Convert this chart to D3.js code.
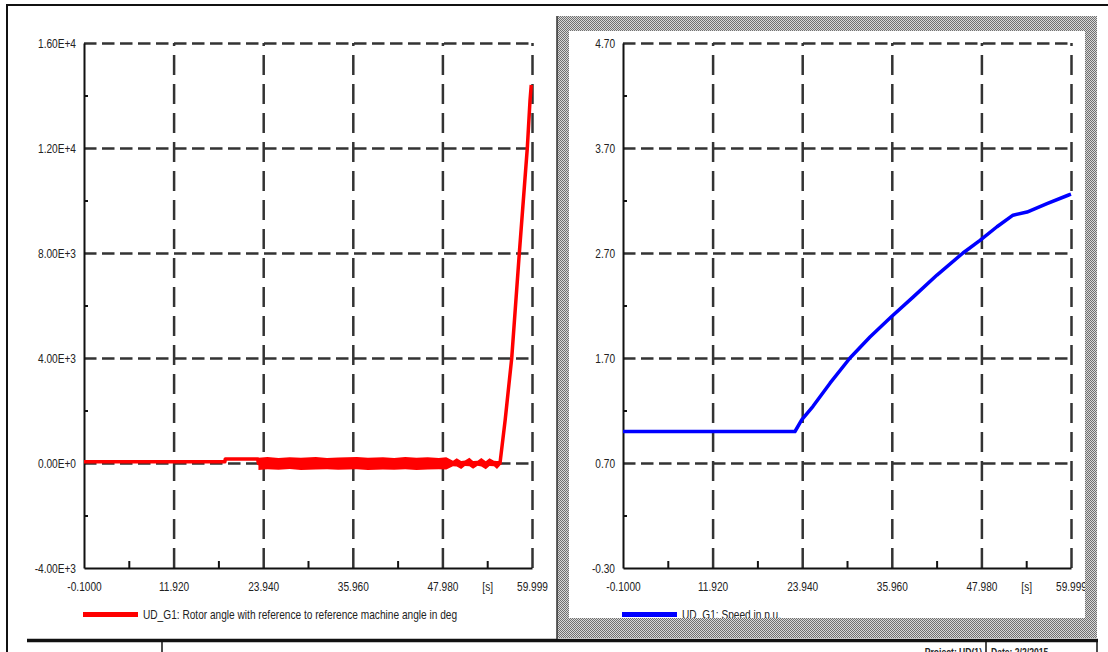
<!DOCTYPE html>
<html>
<head>
<meta charset="utf-8">
<script src="https://cdn.jsdelivr.net/npm/d3@7"></script>
<style>
  body { margin: 0; background: #fff; }
  text { font-family: "Liberation Sans", Arial, sans-serif; fill: #222; }
</style>
</head>
<body>
<script>
// time axis (shared by both plots)
const timeDomain = [-0.1, 59.999];
const xTickValues = [-0.1, 11.92, 23.94, 35.96, 47.98, 53.99, 59.999];
const xTickLabels = ["-0.1000", "11.920", "23.940", "35.960", "47.980", "[s]", "59.999"];
const xGridValues = [11.92, 23.94, 35.96, 47.98, 59.999];
const xMinorValues = [5.91, 17.93, 29.95, 41.97, 53.99];

// rotor angle plot
const angleDomain = [-4000, 16000];
const angleTicks = [-4000, 0, 4000, 8000, 12000, 16000];
const angleTickLabels = ["-4.00E+3", "0.00E+0", "4.00E+3", "8.00E+3", "1.20E+4", "1.60E+4"];
const angleGrid = [0, 4000, 8000, 12000, 16000];
const angleMinor = [-2000, 2000, 6000, 10000, 14000];

const rotorTime = [-0.1, 18.8, 18.85, 23.2, 23.3, 55.7, 56.4, 57.28, 58.3, 59.37, 59.73, 59.9];
const rotorAngle = [50, 50, 150, 150, -20, -20, 1640, 4000, 8000, 12000, 13800, 14400];

// envelope of the fast oscillation between the fault and the pole slip
const bandTime = [23.3, 24.5, 26, 27.5, 29, 31, 32.5, 34, 36.5, 38, 40, 41.5, 43, 44.5, 46, 47.5,
  48.5, 49.4, 49.9, 50.5, 51.0, 51.6, 52.1, 52.7, 53.2, 53.8, 54.3, 54.9, 55.3, 55.7];
const bandUpper = [200, 230, 190, 220, 200, 230, 190, 210, 230, 200, 220, 190, 230, 200, 220, 190,
  220, 90, 180, 80, 100, 200, 80, 90, 190, 70, 180, 90, 80, 80];
const bandLower = [-270, -240, -260, -230, -270, -250, -240, -260, -240, -270, -250, -260, -240, -270, -250, -240,
  -250, -120, -130, -230, -110, -120, -220, -100, -130, -240, -110, -120, -230, -100];

// speed plot
const speedDomain = [-0.3, 4.7];
const speedTicks = [-0.3, 0.7, 1.7, 2.7, 3.7, 4.7];
const speedTickLabels = ["-0.30", "0.70", "1.70", "2.70", "3.70", "4.70"];
const speedGrid = [0.7, 1.7, 2.7, 3.7, 4.7];
const speedMinor = [0.2, 1.2, 2.2, 3.2, 4.2];

const speedTime = [-0.1, 22.97, 23.87, 25.39, 27.67, 30.35, 33.03, 35.86, 38.81,
  42.02, 45.51, 47.79, 50.07, 52.22, 54.10, 56.78, 59.60, 59.999];
const speedValue = [1.00, 1.00, 1.11, 1.24, 1.46, 1.70, 1.90, 2.09, 2.28,
  2.49, 2.70, 2.82, 2.95, 3.06, 3.09, 3.17, 3.25, 3.26];

const W = 1108, H = 652;
const plotTop = 43, plotBottom = 568, plotWidth = 448;
const squeeze = 0.78;   // the original print uses a narrow font

const svg = d3.select("body").append("svg")
  .attr("width", W)
  .attr("height", H);

const defs = svg.append("defs");
const pat = defs.append("pattern")
  .attr("id", "hatch")
  .attr("width", 2).attr("height", 2)
  .attr("patternUnits", "userSpaceOnUse");
pat.append("rect").attr("width", 2).attr("height", 2).attr("fill", "#d8d8d8");
pat.append("rect").attr("width", 1).attr("height", 1).attr("fill", "#707070");
pat.append("rect").attr("x", 1).attr("y", 1).attr("width", 1).attr("height", 1).attr("fill", "#707070");

function drawPanel(cfg) {
  const x = d3.scaleLinear().domain(timeDomain).range([cfg.left, cfg.left + plotWidth]);
  const y = d3.scaleLinear().domain(cfg.yDomain).range([plotBottom, plotTop]);
  const g = svg.append("g");

  // dashed grid
  g.append("g")
    .attr("transform", "translate(" + cfg.left + ",0)")
    .call(d3.axisLeft(y).tickValues(cfg.yGrid).tickSize(-plotWidth).tickFormat(""))
    .call(s => s.select(".domain").remove())
    .selectAll("line")
    .attr("stroke", "#333").attr("stroke-width", 2.5).attr("stroke-dasharray", "12.5,5.5");

  g.append("g")
    .attr("transform", "translate(0," + plotBottom + ")")
    .call(d3.axisBottom(x).tickValues(xGridValues).tickSize(-(plotBottom - plotTop)).tickFormat(""))
    .call(s => s.select(".domain").remove())
    .selectAll("line")
    .attr("stroke", "#333").attr("stroke-width", 2.5).attr("stroke-dasharray", "20,9");

  // minor ticks
  g.append("g")
    .attr("transform", "translate(0," + plotBottom + ")")
    .call(d3.axisBottom(x).tickValues(xMinorValues).tickSize(-7).tickFormat(""))
    .call(s => s.select(".domain").remove())
    .selectAll("line").attr("stroke", "#111").attr("stroke-width", 2);

  g.append("g")
    .attr("transform", "translate(" + cfg.left + ",0)")
    .call(d3.axisLeft(y).tickValues(cfg.yMinor).tickSize(-4).tickFormat(""))
    .call(s => s.select(".domain").remove())
    .selectAll("line").attr("stroke", "#111").attr("stroke-width", 2);

  // axes with labels
  const xAxis = g.append("g")
    .attr("transform", "translate(0," + plotBottom + ")")
    .call(d3.axisBottom(x).tickValues(xTickValues)
      .tickFormat((d, i) => xTickLabels[i]).tickSize(0).tickPadding(14));
  xAxis.select(".domain").attr("stroke", "#111").attr("stroke-width", 2);
  xAxis.selectAll("text")
    .attr("font-family", "Liberation Sans, Arial, sans-serif")
    .attr("font-size", 13).attr("fill", "#222")
    .attr("transform", "scale(" + squeeze + ",1)");

  const yAxis = g.append("g")
    .attr("transform", "translate(" + cfg.left + ",0)")
    .call(d3.axisLeft(y).tickValues(cfg.yTicks)
      .tickFormat((d, i) => cfg.yLabels[i]).tickSize(0).tickPadding(8 / squeeze));
  yAxis.select(".domain").attr("stroke", "#111").attr("stroke-width", 2);
  yAxis.selectAll("text")
    .attr("font-family", "Liberation Sans, Arial, sans-serif")
    .attr("font-size", 13).attr("fill", "#222")
    .attr("transform", "scale(" + squeeze + ",1)");

  // noisy band, when there is one
  if (cfg.band) {
    const area = d3.area()
      .x(d => x(d[0]))
      .y0(d => y(d[2]))
      .y1(d => y(d[1]));
    g.append("path")
      .datum(d3.zip(cfg.band.time, cfg.band.upper, cfg.band.lower))
      .attr("d", area)
      .attr("fill", cfg.color);
  }

  // the curve
  const line = d3.line()
    .x(d => x(d[0]))
    .y(d => y(d[1]));
  g.append("path")
    .datum(d3.zip(cfg.time, cfg.values))
    .attr("d", line)
    .attr("fill", "none")
    .attr("stroke", cfg.color)
    .attr("stroke-width", cfg.lineWidth)
    .attr("stroke-linejoin", "round");

  // legend
  g.append("line")
    .attr("x1", cfg.left - 1).attr("x2", cfg.left + 54)
    .attr("y1", 614.5).attr("y2", 614.5)
    .attr("stroke", cfg.color).attr("stroke-width", 5);
  g.append("text")
    .attr("transform", "translate(" + (cfg.left + 59) + ",619) scale(" + squeeze + ",1)")
    .attr("font-size", 13)
    .text(cfg.legend);
}

drawPanel({
  left: 84,
  yDomain: angleDomain, yTicks: angleTicks, yLabels: angleTickLabels,
  yGrid: angleGrid, yMinor: angleMinor,
  time: rotorTime, values: rotorAngle,
  band: { time: bandTime, upper: bandUpper, lower: bandLower },
  color: "#ff0000", lineWidth: 3.5,
  legend: "UD_G1: Rotor angle with reference to reference machine angle in deg"
});

drawPanel({
  left: 623,
  yDomain: speedDomain, yTicks: speedTicks, yLabels: speedTickLabels,
  yGrid: speedGrid, yMinor: speedMinor,
  time: speedTime, values: speedValue,
  color: "#0000ff", lineWidth: 3.5,
  legend: "UD_G1: Speed in p.u."
});

// hatched frame of the selected (right) plot
svg.append("path")
  .attr("d", "M557,16H1097V638H557Z M569,31V618H1085V31Z")
  .attr("fill", "url(#hatch)")
  .attr("fill-rule", "evenodd");
svg.append("line")
  .attr("x1", 557).attr("x2", 557).attr("y1", 16).attr("y2", 640)
  .attr("stroke", "#333").attr("stroke-width", 1.5);

// page frame and title block
const frame = svg.append("g").attr("stroke", "#111");
frame.append("line").attr("x1", 6).attr("x2", W).attr("y1", 5).attr("y2", 5).attr("stroke-width", 2);
frame.append("line").attr("x1", 7).attr("x2", 7).attr("y1", 4).attr("y2", H).attr("stroke-width", 2);
frame.append("line").attr("x1", 27).attr("x2", 1098).attr("y1", 640.5).attr("y2", 640.5).attr("stroke-width", 3.5);
[162, 986, 1097].forEach(function(xv) {
  frame.append("line").attr("x1", xv).attr("x2", xv).attr("y1", 641).attr("y2", H).attr("stroke-width", 1.5);
});

// title block texts, cut by the page edge as in the print
svg.append("text")
  .attr("transform", "translate(982,656) scale(" + squeeze + ",1)")
  .attr("text-anchor", "end")
  .attr("font-size", 11).attr("font-weight", "bold")
  .text("Project: UD(1)");
svg.append("text")
  .attr("transform", "translate(991,656) scale(" + squeeze + ",1)")
  .attr("font-size", 11).attr("font-weight", "bold")
  .text("Date: 2/2/2015");
</script>
</body>
</html>
